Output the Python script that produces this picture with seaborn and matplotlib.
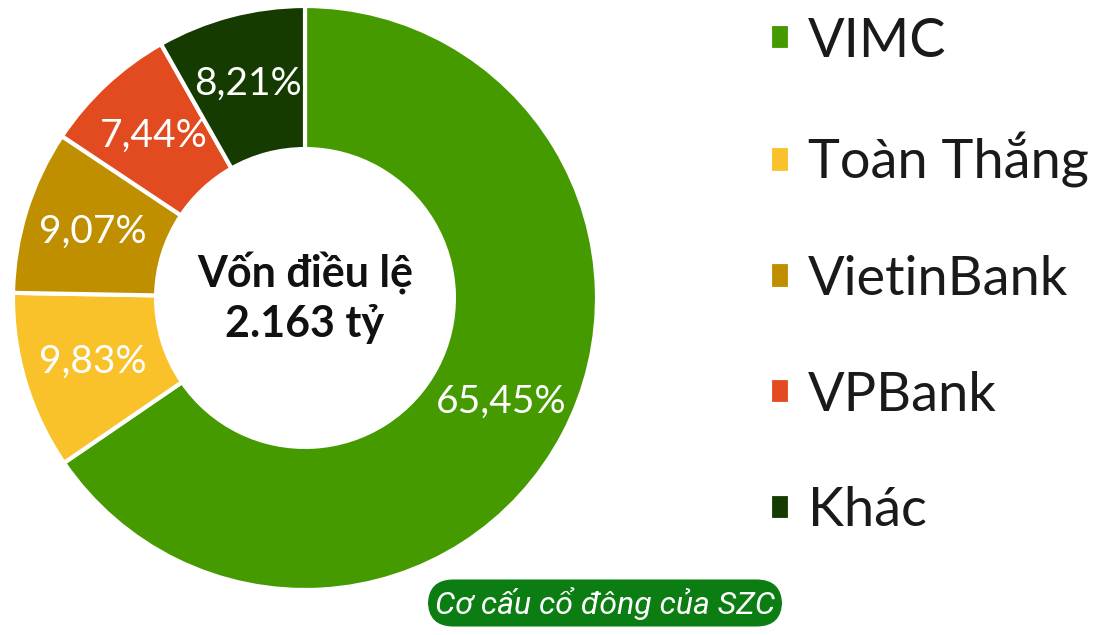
import matplotlib.pyplot as plt
import seaborn as sns

# Shareholder structure of SZC
holders = ["VIMC", "Toàn Thắng", "VietinBank", "VPBank", "Khác"]
shares = [65.45, 9.83, 9.07, 7.44, 8.21]
colors = ["#459A00", "#F9C22B", "#BF8F00", "#E24B1F", "#163B00"]
center_text = "Vốn điều lệ\n2.163 tỷ"
caption = "Cơ cấu cổ đông của SZC"

sns.set_theme(style="white")
plt.rcParams["font.family"] = ["Lato", "DejaVu Sans"]

fig = plt.figure(figsize=(11.06, 6.35), dpi=100)
ax = fig.add_axes([13 / 1106, 45 / 635, 584 / 1106, 584 / 635])

wedges, texts, autotexts = ax.pie(
    shares,
    colors=colors,
    startangle=90,
    counterclock=False,
    radius=1,
    pctdistance=0.76,
    autopct=lambda p: f"{p:.2f}%".replace(".", ","),
    wedgeprops=dict(width=0.49, edgecolor="white", linewidth=3),
    textprops=dict(color="white", fontsize=28),
)
ax.set_xlim(-1, 1)
ax.set_ylim(-1, 1)
ax.set_aspect("equal")

ax.text(0, 0, center_text, ha="center", va="center", fontsize=31,
        fontweight="bold", color="#111111", linespacing=1.3)

fig.legend(wedges, holders, loc="center left",
           bbox_to_anchor=(748 / 1106, 1 - 276 / 635),
           frameon=False, fontsize=39, handlelength=0.37, handleheight=0.37,
           handletextpad=0.33, labelspacing=1.23, borderaxespad=0,
           labelcolor="#1a1a1a")

fig.text(605 / 1106, 1 - 603 / 635, caption, ha="center", va="center",
         fontsize=23, style="italic", color="white",
         family=["Roboto", "DejaVu Sans"],
         bbox=dict(boxstyle="round,pad=0.22,rounding_size=0.8",
                   facecolor="#0B7D12", edgecolor="none"))

plt.savefig("out.png", dpi=100)
